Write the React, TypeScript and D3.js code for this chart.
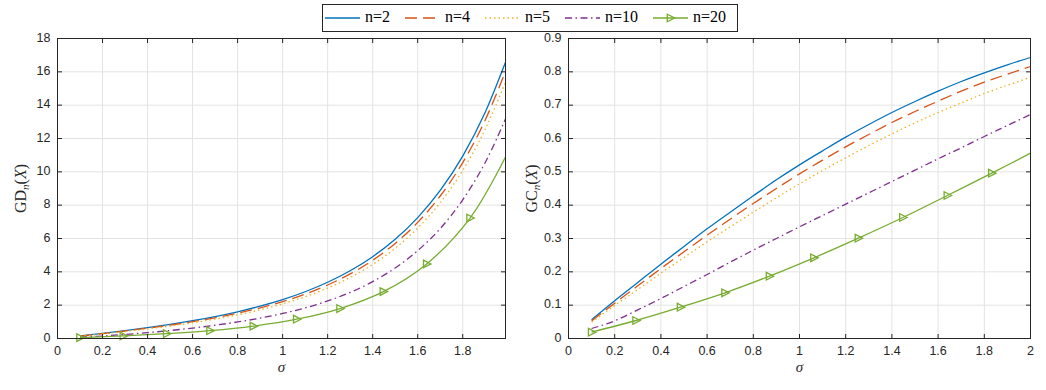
import { useEffect, useRef } from "react";
import * as d3 from "d3";

// sigma grid (x values)
const sigmaGD = [0.1, 0.2, 0.3, 0.4, 0.5, 0.6, 0.7, 0.8, 0.9, 1.0, 1.1, 1.2, 1.3, 1.4, 1.5, 1.6, 1.7, 1.8, 1.9, 1.99];
const sigmaGC = [0.1, 0.2, 0.3, 0.4, 0.5, 0.6, 0.7, 0.8, 0.9, 1.0, 1.1, 1.2, 1.3, 1.4, 1.5, 1.6, 1.7, 1.8, 1.9, 2.0];
// n=20 is sampled at its marker positions (plus the end point)
const sigmaN20GD = [0.1, 0.2925, 0.485, 0.6775, 0.87, 1.0625, 1.255, 1.4475, 1.64, 1.8325, 1.99];
const sigmaN20GC = [0.1, 0.2925, 0.485, 0.6775, 0.87, 1.0625, 1.255, 1.4475, 1.64, 1.8325, 2.0];

// left panel: GD_n(X)
const gdN2 = [0.154, 0.312, 0.478, 0.656, 0.851, 1.069, 1.318, 1.604, 1.938, 2.333, 2.804, 3.373, 4.063, 4.909, 5.955, 7.256, 8.887, 10.946, 13.57, 16.569];
const gdN4 = [0.145, 0.293, 0.449, 0.617, 0.802, 1.008, 1.244, 1.516, 1.835, 2.215, 2.665, 3.211, 3.874, 4.693, 5.705, 6.965, 8.55, 10.556, 13.113, 16.026];
const gdN5 = [0.135, 0.273, 0.418, 0.576, 0.748, 0.942, 1.164, 1.42, 1.722, 2.079, 2.508, 3.027, 3.663, 4.444, 5.414, 6.627, 8.149, 10.09, 12.564, 15.384];
const gdN10 = [0.082, 0.147, 0.245, 0.353, 0.48, 0.625, 0.795, 0.992, 1.223, 1.501, 1.837, 2.251, 2.765, 3.411, 4.228, 5.27, 6.596, 8.324, 10.563, 13.173];
const gdN20 = [0.052, 0.153, 0.287, 0.469, 0.742, 1.157, 1.798, 2.813, 4.475, 7.228, 10.889];

// right panel: GC_n(X)
const gcN2 = [0.056, 0.113, 0.168, 0.223, 0.276, 0.329, 0.379, 0.428, 0.476, 0.521, 0.563, 0.604, 0.642, 0.678, 0.711, 0.742, 0.771, 0.797, 0.821, 0.843];
const gcN4 = [0.053, 0.106, 0.158, 0.21, 0.26, 0.31, 0.358, 0.405, 0.45, 0.494, 0.535, 0.575, 0.612, 0.648, 0.681, 0.712, 0.742, 0.769, 0.793, 0.816];
const gcN5 = [0.049, 0.099, 0.147, 0.196, 0.243, 0.29, 0.335, 0.379, 0.422, 0.464, 0.504, 0.542, 0.579, 0.614, 0.647, 0.678, 0.707, 0.735, 0.76, 0.784];
const gcN10 = [0.03, 0.053, 0.086, 0.12, 0.156, 0.192, 0.229, 0.265, 0.3, 0.335, 0.369, 0.403, 0.437, 0.471, 0.505, 0.539, 0.572, 0.606, 0.639, 0.672];
const gcN20 = [0.019, 0.054, 0.094, 0.137, 0.187, 0.242, 0.301, 0.363, 0.429, 0.496, 0.556];

// ticks
const xTicksGD = [0, 0.2, 0.4, 0.6, 0.8, 1, 1.2, 1.4, 1.6, 1.8];
const yTicksGD = [0, 2, 4, 6, 8, 10, 12, 14, 16, 18];
const xTicksGC = [0, 0.2, 0.4, 0.6, 0.8, 1, 1.2, 1.4, 1.6, 1.8, 2];
const yTicksGC = [0, 0.1, 0.2, 0.3, 0.4, 0.5, 0.6, 0.7, 0.8, 0.9];

const seriesLabels = ["n=2", "n=4", "n=5", "n=10", "n=20"];

const COLORS = ["#0072BD", "#D95319", "#EDB120", "#7E2F8E", "#77AC30"];
const DASHES = [null, "12,6", "1.5,3", "7,3.5,1.5,3.5", null];
const AXIS = "#262626";
const GRID = "#e3e3e3";
const SANS = "'Liberation Sans', Arial, Helvetica, sans-serif";
const SERIF = "'Liberation Serif', 'Times New Roman', serif";

const fmt = (d: number) => String(+d.toFixed(2));

export default function App() {
  const ref = useRef<SVGSVGElement | null>(null);

  useEffect(() => {
    const svg = d3.select(ref.current);
    svg.selectAll("*").remove();

    const tri = "M-3.2,-3.8L-3.2,3.8L4.2,0Z";

    const drawPanel = (
      box: { x0: number; x1: number; y0: number; y1: number },
      xDomain: [number, number],
      yDomain: [number, number],
      xTicks: number[],
      yTicks: number[],
      sigma: number[],
      sigma20: number[],
      ys: number[][],
      y20: number[],
      yLabelMain: string
    ) => {
      const x = d3.scaleLinear().domain(xDomain).range([box.x0, box.x1]);
      const y = d3.scaleLinear().domain(yDomain).range([box.y1, box.y0]);
      const g = svg.append("g");
      const tl = 4.5;

      // grid
      g.append("g")
        .selectAll("line")
        .data(xTicks)
        .enter()
        .append("line")
        .attr("x1", (d) => x(d))
        .attr("x2", (d) => x(d))
        .attr("y1", box.y0)
        .attr("y2", box.y1)
        .attr("stroke", GRID)
        .attr("stroke-width", 1);
      g.append("g")
        .selectAll("line")
        .data(yTicks)
        .enter()
        .append("line")
        .attr("x1", box.x0)
        .attr("x2", box.x1)
        .attr("y1", (d) => y(d))
        .attr("y2", (d) => y(d))
        .attr("stroke", GRID)
        .attr("stroke-width", 1);

      // curves
      const line = d3
        .line<[number, number]>()
        .x((d) => x(d[0]))
        .y((d) => y(d[1]))
        .curve(d3.curveMonotoneX);

      ys.forEach((vals, i) => {
        const p = g
          .append("path")
          .attr("d", line(sigma.map((s, k) => [s, vals[k]] as [number, number])))
          .attr("fill", "none")
          .attr("stroke", COLORS[i])
          .attr("stroke-width", 1.3);
        if (DASHES[i]) p.attr("stroke-dasharray", DASHES[i] as string);
      });

      const pts20 = sigma20.map((s, k) => [s, y20[k]] as [number, number]);
      g.append("path")
        .attr("d", line.curve(d3.curveCatmullRom.alpha(0.5))(pts20))
        .attr("fill", "none")
        .attr("stroke", COLORS[4])
        .attr("stroke-width", 1.3);
      g.append("g")
        .selectAll("path")
        .data(pts20.slice(0, -1))
        .enter()
        .append("path")
        .attr("d", tri)
        .attr("transform", (d) => `translate(${x(d[0])},${y(d[1])})`)
        .attr("fill", "none")
        .attr("stroke", COLORS[4])
        .attr("stroke-width", 1.3);

      // box
      g.append("rect")
        .attr("x", box.x0)
        .attr("y", box.y0)
        .attr("width", box.x1 - box.x0)
        .attr("height", box.y1 - box.y0)
        .attr("fill", "none")
        .attr("stroke", AXIS)
        .attr("stroke-width", 1);

      // ticks (inward, mirrored)
      const tk = g.append("g").attr("stroke", AXIS).attr("stroke-width", 1);
      xTicks.forEach((t) => {
        tk.append("line").attr("x1", x(t)).attr("x2", x(t)).attr("y1", box.y1).attr("y2", box.y1 - tl);
        tk.append("line").attr("x1", x(t)).attr("x2", x(t)).attr("y1", box.y0).attr("y2", box.y0 + tl);
      });
      yTicks.forEach((t) => {
        tk.append("line").attr("x1", box.x0).attr("x2", box.x0 + tl).attr("y1", y(t)).attr("y2", y(t));
        tk.append("line").attr("x1", box.x1).attr("x2", box.x1 - tl).attr("y1", y(t)).attr("y2", y(t));
      });

      // tick labels
      g.append("g")
        .selectAll("text")
        .data(xTicks)
        .enter()
        .append("text")
        .attr("x", (d) => x(d))
        .attr("y", box.y1 + 13.5)
        .attr("text-anchor", "middle")
        .attr("dominant-baseline", "middle")
        .style("font-family", SANS)
        .style("font-size", "12.5px")
        .style("fill", AXIS)
        .text(fmt);
      g.append("g")
        .selectAll("text")
        .data(yTicks)
        .enter()
        .append("text")
        .attr("x", box.x0 - 7)
        .attr("y", (d) => y(d))
        .attr("text-anchor", "end")
        .attr("dominant-baseline", "middle")
        .style("font-family", SANS)
        .style("font-size", "12.5px")
        .style("fill", AXIS)
        .text(fmt);

      // x label
      g.append("text")
        .attr("x", (box.x0 + box.x1) / 2)
        .attr("y", box.y1 + 33)
        .attr("text-anchor", "middle")
        .style("font-family", SERIF)
        .style("font-style", "italic")
        .style("font-size", "15px")
        .style("fill", AXIS)
        .text("σ");

      // y label
      const yl = g
        .append("text")
        .attr("transform", `translate(${box.x0 - 32},${(box.y0 + box.y1) / 2}) rotate(-90)`)
        .attr("text-anchor", "middle")
        .style("font-family", SERIF)
        .style("font-size", "16px")
        .style("fill", AXIS);
      yl.append("tspan").text(yLabelMain);
      yl.append("tspan").attr("font-style", "italic").attr("font-size", "11px").attr("dy", 3).text("n");
      yl.append("tspan").attr("dy", -3).text("(");
      yl.append("tspan").attr("font-style", "italic").text("X");
      yl.append("tspan").text(")");
    };

    drawPanel(
      { x0: 57.5, x1: 505.5, y0: 38.5, y1: 338.5 },
      [0, 1.99],
      [0, 18],
      xTicksGD,
      yTicksGD,
      sigmaGD,
      sigmaN20GD,
      [gdN2, gdN4, gdN5, gdN10],
      gdN20,
      "GD"
    );
    drawPanel(
      { x0: 568.5, x1: 1030.5, y0: 38.5, y1: 338.5 },
      [0, 2],
      [0, 0.9],
      xTicksGC,
      yTicksGC,
      sigmaGC,
      sigmaN20GC,
      [gcN2, gcN4, gcN5, gcN10],
      gcN20,
      "GC"
    );

    // legend
    const lg = svg.append("g");
    lg.append("rect")
      .attr("x", 322.5)
      .attr("y", 4.5)
      .attr("width", 415)
      .attr("height", 27)
      .attr("fill", "#fff")
      .attr("stroke", AXIS)
      .attr("stroke-width", 1);
    const itemX = [325, 405, 485, 565, 653];
    const lineLen = 35;
    seriesLabels.forEach((lab, i) => {
      const x0 = itemX[i];
      const ln = lg
        .append("line")
        .attr("x1", x0)
        .attr("x2", x0 + lineLen)
        .attr("y1", 18)
        .attr("y2", 18)
        .attr("stroke", COLORS[i])
        .attr("stroke-width", 1.3);
      if (DASHES[i]) ln.attr("stroke-dasharray", DASHES[i] as string);
      if (i === 4) {
        lg.append("path")
          .attr("d", tri)
          .attr("transform", `translate(${x0 + lineLen / 2},18)`)
          .attr("fill", "none")
          .attr("stroke", COLORS[i])
          .attr("stroke-width", 1.3);
      }
      lg.append("text")
        .attr("x", x0 + lineLen + 5)
        .attr("y", 18)
        .attr("dominant-baseline", "middle")
        .style("font-family", SERIF)
        .style("font-size", "16px")
        .style("fill", "#000")
        .text(lab);
    });
  }, []);

  return (
    <svg
      ref={ref}
      width={1046}
      height={390}
      style={{ position: "absolute", left: 0, top: 0, background: "#fff" }}
    />
  );
}
